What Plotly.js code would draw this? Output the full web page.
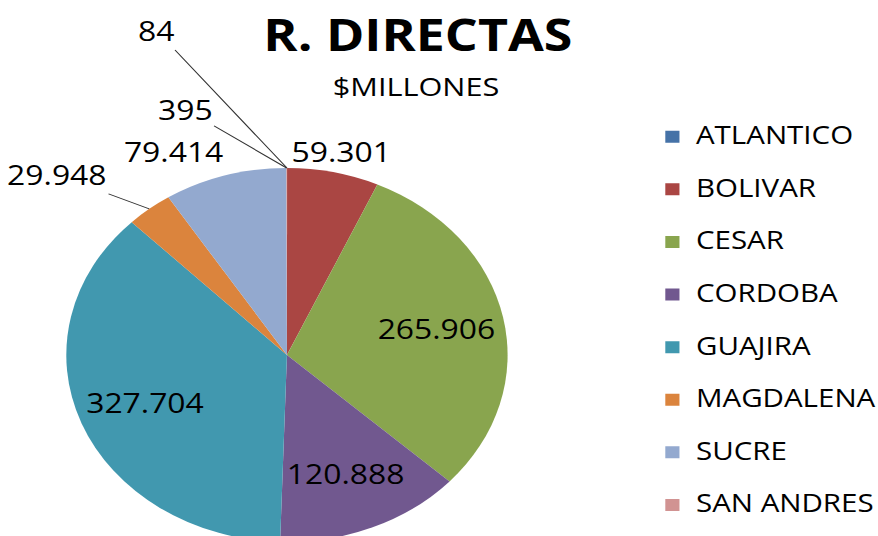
<!DOCTYPE html>
<html>
<head>
<meta charset="utf-8">
<script src="https://cdn.plot.ly/plotly-3.0.1.min.js"></script>
<style>
  html, body { margin: 0; padding: 0; background: #fff; overflow: hidden; }
  #wrap { width: 878px; height: 536px; overflow: hidden; }
  /* the original chart is stretched horizontally, so draw narrower and stretch */
  #plot { width: 744px; height: 542px; transform: scaleX(1.18); transform-origin: 0 0; }
</style>
</head>
<body>
<div id="wrap"><div id="plot"></div></div>
<script>
const departamentos = ['ATLANTICO', 'BOLIVAR', 'CESAR', 'CORDOBA', 'GUAJIRA', 'MAGDALENA', 'SUCRE', 'SAN ANDRES'];
const regalias = [84, 59301, 265906, 120888, 327704, 29948, 79414, 395];
const colores = ['#4572A7', '#AA4643', '#89A54E', '#71588F', '#4198AF', '#DB843D', '#93A9CF', '#D19392'];
// how each data label sits: inside the slice, outside, or outside with a leader line
const tipoEtiqueta = ['guia', 'fuera', 'dentro', 'dentro', 'dentro', 'guia', 'fuera', 'guia'];
// text offset (px) from the slice edge for the outside labels
const desplaza = [[-111, -138], [7, -21], null, null, null, [-78, -34], [-44, -24], [-86, -59]];

const fuente = 'Open Sans, Lato, sans-serif';
const W = 744, H = 542;
// pie centre (243, 355) and radius 187, as in the reference
const dom = { x: [0.0755, 0.5782], y: [0, 0.69] };

// legend rows: an empty first line gives Excel's wide row spacing
const leyenda = departamentos.map(d => ' <br><span style="font-size:25px">' + d + '</span>');

let trace = {
  type: 'pie',
  labels: leyenda,
  values: regalias,
  sort: false,
  direction: 'clockwise',
  rotation: 0,
  marker: { colors: colores, line: { width: 0 } },
  textposition: 'none',
  domain: dom,
  automargin: false,
  hoverinfo: 'value'
};

const miles = v => String(v).replace(/\B(?=(\d{3})+(?!\d))/g, '.');

// data labels, placed from the slice angles
let total = regalias.reduce((a, b) => a + b, 0);
let r = Math.min((dom.x[1] - dom.x[0]) * W, (dom.y[1] - dom.y[0]) * H) / 2;
let cx = (dom.x[0] + dom.x[1]) / 2, cy = (dom.y[0] + dom.y[1]) / 2;
let acum = 0;
let notas = [];
regalias.forEach((v, i) => {
  let mid = (acum + v / 2) / total * 2 * Math.PI;
  acum += v;
  let k = tipoEtiqueta[i] === 'dentro' ? 0.69 : 1;
  let nota = {
    xref: 'paper', yref: 'paper',
    x: cx + k * r * Math.sin(mid) / W,
    y: cy + k * r * Math.cos(mid) / H,
    xanchor: 'center', yanchor: 'middle',
    text: miles(v),
    showarrow: false,
    font: { family: fuente, size: 27, color: '#000' }
  };
  if (tipoEtiqueta[i] === 'guia') {
    Object.assign(nota, {
      xanchor: 'auto', yanchor: 'auto',
      showarrow: true, arrowhead: 0, arrowwidth: 1, arrowcolor: '#333', standoff: 0,
      ax: desplaza[i][0], ay: desplaza[i][1]
    });
  } else if (tipoEtiqueta[i] === 'fuera') {
    nota.xshift = desplaza[i][0];
    nota.yshift = -desplaza[i][1];
  }
  notas.push(nota);
});
notas.push({
  xref: 'paper', yref: 'paper', x: 0.474, y: 0.842,
  xanchor: 'center', yanchor: 'middle', showarrow: false,
  text: '$MILLONES', font: { family: fuente, size: 26, color: '#000' }
});

let layout = {
  width: W,
  height: H,
  separators: ',.',
  margin: { l: 0, r: 0, t: 0, b: 0, autoexpand: false },
  paper_bgcolor: '#fff',
  font: { family: fuente, color: '#000' },
  title: {
    text: '<b>R. DIRECTAS</b>',
    font: { family: fuente, size: 44, color: '#000' },
    x: 0.476, xanchor: 'center',
    y: 0.9635, yanchor: 'top'
  },
  annotations: notas,
  legend: {
    x: 0.739, xanchor: 'left',
    y: 0.8284, yanchor: 'top',
    valign: 'bottom',
    font: { family: fuente, size: 19.08, color: '#000' },
    traceorder: 'normal'
  },
  showlegend: true
};

Plotly.newPlot('plot', [trace], layout, { staticPlot: true });
</script>
</body>
</html>
